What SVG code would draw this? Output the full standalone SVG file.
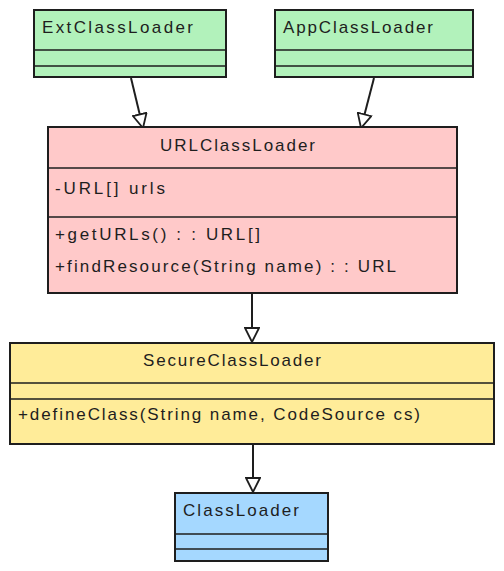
<svg xmlns="http://www.w3.org/2000/svg" width="504" height="571" viewBox="0 0 504 571">
<style>
.box{stroke:#1e1e1e;stroke-width:2}
.div{stroke:#1e1e1e;stroke-width:1.5;fill:none}
.t{font-family:"Liberation Sans",Arial,sans-serif;font-size:17px;fill:#1e1e1e}
.c{stroke:#1e1e1e;stroke-width:2;fill:none}
</style>
<defs>
<marker id="tri" viewBox="0 0 16 16" refX="15" refY="8" markerWidth="16" markerHeight="16" markerUnits="userSpaceOnUse" orient="auto">
<path d="M1,1 L15,8 L1,15 Z" fill="#fff" stroke="#1e1e1e" stroke-width="1.8"/>
</marker>
</defs>
<rect width="504" height="571" fill="#fff"/>
<g id="connectors">
<path class="c" d="M131,78 L143,128" marker-end="url(#tri)"/>
<path class="c" d="M374,78 L361,128" marker-end="url(#tri)"/>
<path class="c" d="M252,294 L252,342" marker-end="url(#tri)"/>
<path class="c" d="M253,445 L253,492" marker-end="url(#tri)"/>
</g>
<g id="ExtClassLoader">
<rect class="box" x="34" y="10" width="192" height="67" fill="#b2f2bb"/>
<path class="div" d="M34,50 H226 M34,66 H226"/>
<text class="t" x="42" y="33" textLength="151" lengthAdjust="spacing">ExtClassLoader</text>
</g>
<g id="AppClassLoader">
<rect class="box" x="275" y="10" width="198" height="67" fill="#b2f2bb"/>
<path class="div" d="M275,50 H473 M275,66 H473"/>
<text class="t" x="283" y="33" textLength="150" lengthAdjust="spacing">AppClassLoader</text>
</g>
<g id="URLClassLoader">
<rect class="box" x="48" y="127" width="409" height="166" fill="#ffc9c9"/>
<path class="div" d="M48,168 H457 M48,217 H457"/>
<text class="t" x="160" y="151" textLength="155" lengthAdjust="spacing">URLClassLoader</text>
<text class="t" x="55" y="194" textLength="110" lengthAdjust="spacing">-URL[] urls</text>
<text class="t" x="55" y="240" textLength="205" lengthAdjust="spacing">+getURLs() : : URL[]</text>
<text class="t" x="55" y="272" textLength="341" lengthAdjust="spacing">+findResource(String name) : : URL</text>
</g>
<g id="SecureClassLoader">
<rect class="box" x="10" y="343" width="484" height="101" fill="#ffec99"/>
<path class="div" d="M10,383 H494 M10,399 H494"/>
<text class="t" x="143" y="366" textLength="178" lengthAdjust="spacing">SecureClassLoader</text>
<text class="t" x="18" y="420" textLength="402" lengthAdjust="spacing">+defineClass(String name, CodeSource cs)</text>
</g>
<g id="ClassLoader">
<rect class="box" x="175" y="493" width="153" height="68" fill="#a5d8ff"/>
<path class="div" d="M175,534 H328 M175,549 H328"/>
<text class="t" x="183" y="516" textLength="116" lengthAdjust="spacing">ClassLoader</text>
</g>
</svg>
